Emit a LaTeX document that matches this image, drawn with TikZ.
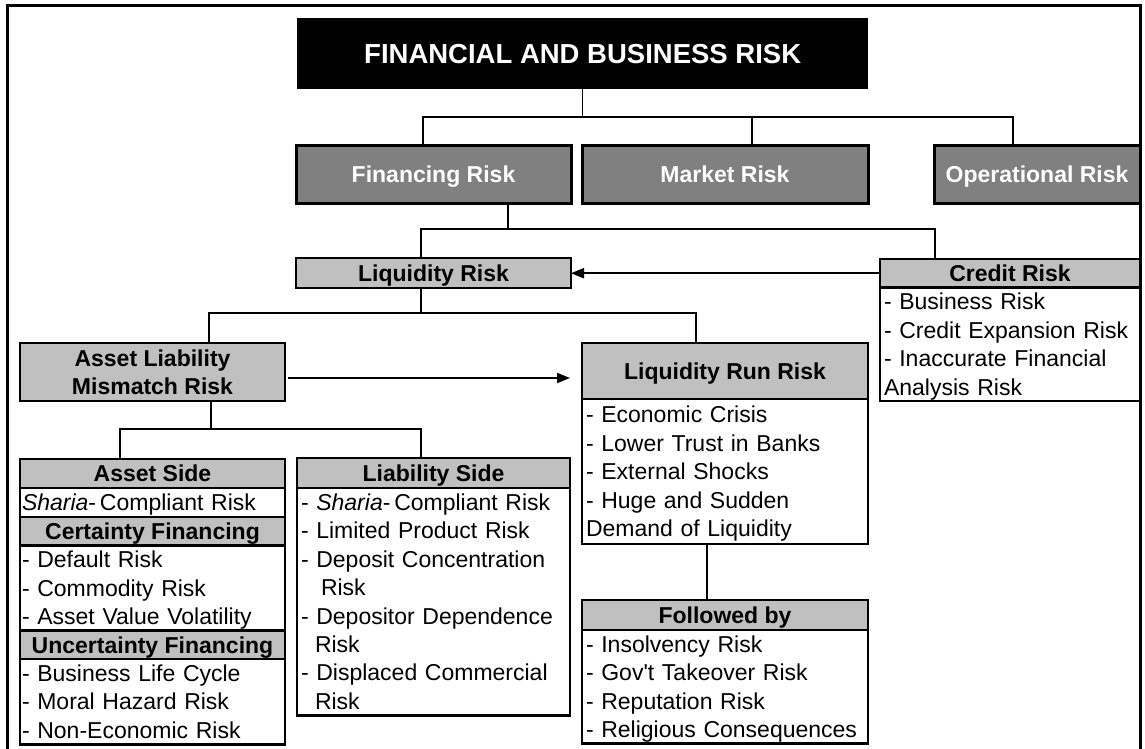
\documentclass[tikz,border=0pt]{standalone}
\usepackage{fontspec}
\setmainfont{Liberation Sans}
\usetikzlibrary{arrows.meta}
\definecolor{riskgray}{RGB}{128,128,128}
\definecolor{headgray}{RGB}{192,192,192}
\newcommand{\rowstrut}{\rule[-6pt]{0pt}{28.4pt}}

\begin{document}
\begin{tikzpicture}[x=1pt,y=-1pt,
    cell/.style={draw,line width=2.8pt,anchor=north west,inner xsep=0pt,inner ysep=0pt,outer sep=0pt,
      font=\fontsize{23}{28.4}\selectfont},
    riskbox/.style={cell,line width=3pt,fill=riskgray,text=white,minimum height=58pt,
      font=\bfseries\fontsize{23}{28.4}\selectfont},
    headbox/.style={cell,fill=headgray,align=center,font=\bfseries\fontsize{23}{28.4}\selectfont},
    listbox/.style={cell,fill=white,align=left,inner xsep=4pt},
    link/.style={line width=1.5pt},
    flow/.style={line width=2pt,-{Triangle[length=13pt,width=10pt]}}]

    \useasboundingbox (0,0) rectangle (1145,748);
    \draw[line width=3pt] (7.5,760) -- (7.5,5.5) -- (1140.5,5.5) -- (1140.5,760);

    \node[fill=black,text=white,anchor=north west,inner sep=0pt,minimum width=571pt,minimum height=71pt,
      font=\bfseries\fontsize{27.5}{33}\selectfont] (title) at (297,18) {FINANCIAL AND BUSINESS RISK};

    \node[riskbox,minimum width=275pt] (fin) at (296,145) {Financing Risk\rowstrut};
    \node[riskbox,minimum width=286pt] (mkt) at (582,145) {Market Risk\rowstrut};
    \node[riskbox,minimum width=206pt] (ops) at (934,145) {Operational Risk\rowstrut};

    \node[headbox,minimum width=275pt,minimum height=30pt] (liq) at (296,258) {Liquidity Risk\rowstrut};

    \node[headbox,minimum width=260pt,minimum height=28pt] (cred) at (880,259) {Credit Risk\rowstrut};
    \node[listbox,text width=252pt,minimum height=113pt] (credlist) at (cred.south west) {
      - Business Risk\rowstrut\\
      - Credit Expansion Risk\rowstrut\\
      - Inaccurate Financial\rowstrut\\
      Analysis Risk\rowstrut};

    \node[headbox,minimum width=265pt,minimum height=58pt] (alm) at (20,343) {
      Asset Liability\rowstrut\\
      Mismatch Risk\rowstrut};

    \node[headbox,minimum width=286pt,minimum height=56pt] (lrr) at (582,343) {Liquidity Run Risk\rowstrut};
    \node[listbox,text width=278pt,minimum height=145pt] (lrrlist) at (lrr.south west) {
      - Economic Crisis\rowstrut\\
      - Lower Trust in Banks\rowstrut\\
      - External Shocks\rowstrut\\
      - Huge and Sudden\rowstrut\\
      Demand of Liquidity\rowstrut};

    \node[headbox,minimum width=286pt,minimum height=30pt] (follow) at (582,600) {Followed by\rowstrut};
    \node[listbox,text width=278pt,minimum height=113pt] (followlist) at (follow.south west) {
      - Insolvency Risk\rowstrut\\
      - Gov\textquotesingle t Takeover Risk\rowstrut\\
      - Reputation Risk\rowstrut\\
      - Religious Consequences\rowstrut};

    \node[headbox,minimum width=265pt,minimum height=29pt] (aside) at (20,459) {Asset Side\rowstrut};
    \node[listbox,inner xsep=2pt,text width=261pt,minimum height=29pt] (sharia) at (aside.south west) {
      \textit{Sharia}-\,Compliant Risk\rowstrut};
    \node[headbox,minimum width=265pt,minimum height=28pt] (cert) at (sharia.south west) {Certainty Financing\rowstrut};
    \node[listbox,inner xsep=2pt,text width=261pt,minimum height=85pt] (certlist) at (cert.south west) {
      - Default Risk\rowstrut\\
      - Commodity Risk\rowstrut\\
      - Asset Value Volatility\rowstrut};
    \node[headbox,minimum width=265pt,minimum height=28pt] (uncert) at (certlist.south west) {Uncertainty Financing\rowstrut};
    \node[listbox,inner xsep=2pt,text width=261pt,minimum height=85pt] (uncertlist) at (uncert.south west) {
      - Business Life Cycle\rowstrut\\
      - Moral Hazard Risk\rowstrut\\
      - Non-Economic Risk\rowstrut};

    \node[headbox,minimum width=273pt,minimum height=30pt] (lside) at (297,458) {Liability Side\rowstrut};
    \node[listbox,text width=265pt,minimum height=227pt] (lsidelist) at (lside.south west) {
      - \textit{Sharia}-\,Compliant Risk\rowstrut\\
      - Limited Product Risk\rowstrut\\
      - Deposit Concentration\rowstrut\\
      \hspace*{20pt}Risk\rowstrut\\
      - Depositor Dependence\rowstrut\\
      \hspace*{14pt}Risk\rowstrut\\
      - Displaced Commercial\rowstrut\\
      \hspace*{14pt}Risk\rowstrut};

    \draw[link] (title.south) -- ++(0,28);
    \draw[link] ([xshift=127pt]fin.north west) -- ++(0,-28) -| ([xshift=79pt]ops.north west);
    \draw[link] ([xshift=170pt]mkt.north west) -- ++(0,-28);

    \draw[link] ([xshift=212pt]fin.south west) -- ++(0,26);
    \draw[link] ([xshift=125pt]liq.north west) -- ++(0,-29) -| ([xshift=55pt]cred.north west);

    \draw[link] ([xshift=125pt]liq.south west) -- ++(0,25);
    \draw[link] ([xshift=189pt]alm.north west) -- ++(0,-30) -| ([xshift=114pt]lrr.north west);

    \draw[link] ([xshift=191pt]alm.south west) -- ++(0,28);
    \draw[link] ([xshift=100pt]aside.north west) -- ++(0,-30) -| ([xshift=124pt]lside.north west);

    \draw[link] ([xshift=125pt]lrrlist.south west) -- ([xshift=125pt]follow.north west);

    \draw[flow] (cred.west) -- (cred.west -| liq.east);
    \coordinate (almout) at ([xshift=3pt,yshift=-6pt]alm.east);
    \draw[flow,shorten >=12pt] (almout) -- (almout -| lrr.west);
  \end{tikzpicture}
\end{document}
